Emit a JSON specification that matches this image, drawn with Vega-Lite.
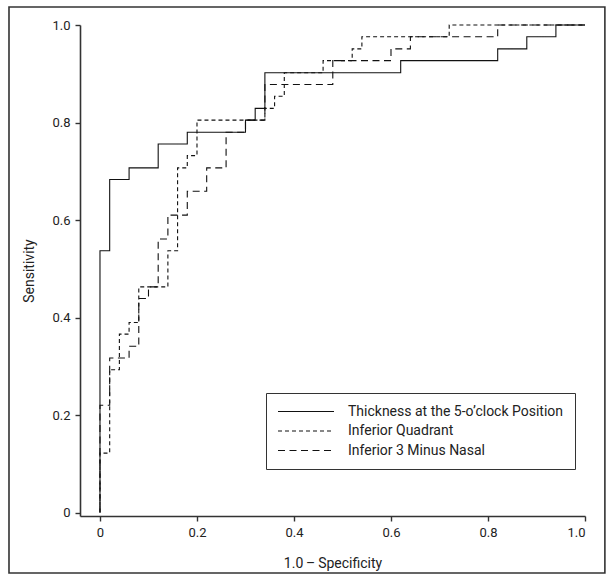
{
  "$schema": "https://vega.github.io/schema/vega-lite/v6.json",
  "width": 505,
  "height": 491,
  "autosize": {"type": "none"},
  "padding": {"left": 80, "top": 25, "right": 25, "bottom": 62},
  "background": "white",
  "config": {
    "view": {"stroke": null},
    "font": "Roboto, sans-serif",
    "axis": {
      "grid": false,
      "domainColor": "#333",
      "domainWidth": 1.6,
      "tickColor": "#333",
      "tickWidth": 1.4,
      "tickSize": 5,
      "labelFontSize": 13,
      "labelColor": "#222",
      "labelPadding": 5,
      "titleFontSize": 14,
      "titleFontWeight": "normal",
      "titleColor": "#222"
    }
  },
  "layer": [
    {
      "data": {"values": [{"frame": "outer"}]},
      "mark": {"type": "rect", "fill": "transparent", "stroke": "#333", "strokeWidth": 1.6},
      "encoding": {
        "x": {"datum": -0.1876, "type": "quantitative", "scale": {"domain": [-0.0412, 1], "nice": false, "zero": false}},
        "x2": {"datum": 1.041},
        "y": {"datum": 1.037, "type": "quantitative", "scale": {"domain": [-0.007, 1], "nice": false, "zero": false}},
        "y2": {"datum": -0.124}
      }
    },
    {
      "data": {
        "values": [
          {"series": "Thickness at the 5-o\u2019clock Position", "fpr": 0, "tpr": 0},
          {"series": "Thickness at the 5-o\u2019clock Position", "fpr": 0, "tpr": 0.537},
          {"series": "Thickness at the 5-o\u2019clock Position", "fpr": 0.02, "tpr": 0.683},
          {"series": "Thickness at the 5-o\u2019clock Position", "fpr": 0.06, "tpr": 0.707},
          {"series": "Thickness at the 5-o\u2019clock Position", "fpr": 0.12, "tpr": 0.756},
          {"series": "Thickness at the 5-o\u2019clock Position", "fpr": 0.18, "tpr": 0.780},
          {"series": "Thickness at the 5-o\u2019clock Position", "fpr": 0.30, "tpr": 0.805},
          {"series": "Thickness at the 5-o\u2019clock Position", "fpr": 0.32, "tpr": 0.829},
          {"series": "Thickness at the 5-o\u2019clock Position", "fpr": 0.34, "tpr": 0.902},
          {"series": "Thickness at the 5-o\u2019clock Position", "fpr": 0.62, "tpr": 0.927},
          {"series": "Thickness at the 5-o\u2019clock Position", "fpr": 0.82, "tpr": 0.951},
          {"series": "Thickness at the 5-o\u2019clock Position", "fpr": 0.88, "tpr": 0.976},
          {"series": "Thickness at the 5-o\u2019clock Position", "fpr": 0.94, "tpr": 1.0},
          {"series": "Thickness at the 5-o\u2019clock Position", "fpr": 1.0, "tpr": 1.0},
          {"series": "Inferior Quadrant", "fpr": 0, "tpr": 0},
          {"series": "Inferior Quadrant", "fpr": 0, "tpr": 0.122},
          {"series": "Inferior Quadrant", "fpr": 0.02, "tpr": 0.293},
          {"series": "Inferior Quadrant", "fpr": 0.04, "tpr": 0.366},
          {"series": "Inferior Quadrant", "fpr": 0.06, "tpr": 0.390},
          {"series": "Inferior Quadrant", "fpr": 0.08, "tpr": 0.463},
          {"series": "Inferior Quadrant", "fpr": 0.14, "tpr": 0.537},
          {"series": "Inferior Quadrant", "fpr": 0.16, "tpr": 0.707},
          {"series": "Inferior Quadrant", "fpr": 0.18, "tpr": 0.732},
          {"series": "Inferior Quadrant", "fpr": 0.20, "tpr": 0.805},
          {"series": "Inferior Quadrant", "fpr": 0.34, "tpr": 0.829},
          {"series": "Inferior Quadrant", "fpr": 0.36, "tpr": 0.854},
          {"series": "Inferior Quadrant", "fpr": 0.38, "tpr": 0.902},
          {"series": "Inferior Quadrant", "fpr": 0.46, "tpr": 0.927},
          {"series": "Inferior Quadrant", "fpr": 0.52, "tpr": 0.951},
          {"series": "Inferior Quadrant", "fpr": 0.54, "tpr": 0.976},
          {"series": "Inferior Quadrant", "fpr": 0.72, "tpr": 1.0},
          {"series": "Inferior Quadrant", "fpr": 1.0, "tpr": 1.0},
          {"series": "Inferior 3 Minus Nasal", "fpr": 0, "tpr": 0},
          {"series": "Inferior 3 Minus Nasal", "fpr": 0, "tpr": 0.220},
          {"series": "Inferior 3 Minus Nasal", "fpr": 0.02, "tpr": 0.317},
          {"series": "Inferior 3 Minus Nasal", "fpr": 0.06, "tpr": 0.341},
          {"series": "Inferior 3 Minus Nasal", "fpr": 0.08, "tpr": 0.439},
          {"series": "Inferior 3 Minus Nasal", "fpr": 0.10, "tpr": 0.463},
          {"series": "Inferior 3 Minus Nasal", "fpr": 0.12, "tpr": 0.561},
          {"series": "Inferior 3 Minus Nasal", "fpr": 0.14, "tpr": 0.610},
          {"series": "Inferior 3 Minus Nasal", "fpr": 0.18, "tpr": 0.659},
          {"series": "Inferior 3 Minus Nasal", "fpr": 0.22, "tpr": 0.707},
          {"series": "Inferior 3 Minus Nasal", "fpr": 0.26, "tpr": 0.780},
          {"series": "Inferior 3 Minus Nasal", "fpr": 0.30, "tpr": 0.805},
          {"series": "Inferior 3 Minus Nasal", "fpr": 0.34, "tpr": 0.878},
          {"series": "Inferior 3 Minus Nasal", "fpr": 0.48, "tpr": 0.927},
          {"series": "Inferior 3 Minus Nasal", "fpr": 0.60, "tpr": 0.951},
          {"series": "Inferior 3 Minus Nasal", "fpr": 0.64, "tpr": 0.976},
          {"series": "Inferior 3 Minus Nasal", "fpr": 0.82, "tpr": 1.0},
          {"series": "Inferior 3 Minus Nasal", "fpr": 1.0, "tpr": 1.0}
        ]
      },
      "mark": {"type": "line", "interpolate": "step-after", "strokeWidth": 1.1, "color": "#111"},
      "encoding": {
        "x": {
          "field": "fpr", "type": "quantitative",
          "scale": {"domain": [-0.0412, 1], "nice": false, "zero": false},
          "axis": {
            "title": "1.0\u2009\u2013\u2009Specificity",
            "values": [0, 0.2, 0.4, 0.6, 0.8, 1.0],
            "labelExpr": "datum.value == 0 ? '0' : format(datum.value, '.1f')",
            "titlePadding": 17
          }
        },
        "y": {
          "field": "tpr", "type": "quantitative",
          "scale": {"domain": [-0.007, 1], "nice": false, "zero": false},
          "axis": {
            "title": "Sensitivity",
            "values": [0, 0.2, 0.4, 0.6, 0.8, 1.0],
            "labelExpr": "datum.value == 0 ? '0' : format(datum.value, '.1f')",
            "titlePadding": 15
          }
        },
        "strokeDash": {
          "field": "series", "type": "nominal",
          "scale": {
            "domain": ["Thickness at the 5-o\u2019clock Position", "Inferior Quadrant", "Inferior 3 Minus Nasal"],
            "range": [[1, 0], [4, 3], [7, 4.5]]
          },
          "legend": {
            "title": null,
            "orient": "none",
            "legendX": 186,
            "legendY": 368,
            "padding": 11,
            "strokeColor": "#333",
            "symbolType": "stroke",
            "symbolSize": 3136,
            "clipHeight": 15,
            "symbolStrokeWidth": 1.1,
            "symbolStrokeColor": "#111",
            "labelFontSize": 14,
            "labelColor": "#222",
            "labelOffset": 13,
            "labelLimit": 400,
            "rowPadding": 4.5
          }
        },
        "order": {"value": null}
      }
    }
  ]
}
